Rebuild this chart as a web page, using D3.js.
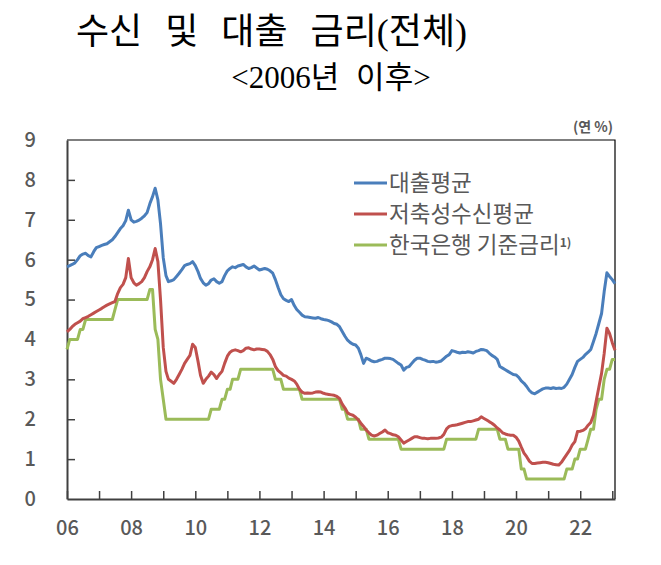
<!DOCTYPE html>
<html>
<head>
<meta charset="utf-8">
<script src="https://cdn.jsdelivr.net/npm/d3@7"></script>
<style>
  body { margin: 0; background: #fff; }
  text { font-family: "Noto Sans CJK KR", sans-serif; }
</style>
</head>
<body>
<svg width="661" height="565"></svg>
<script>
// monthly values, Jan 2006 .. Feb 2023 (연 %)
const loanRate = [
  5.82, 5.85, 5.88, 5.92, 6.00, 6.10, 6.14, 6.16, 6.10, 6.07, 6.20, 6.30,
  6.33, 6.36, 6.38, 6.40, 6.45, 6.50, 6.58, 6.68, 6.78, 6.85, 6.98, 7.24,
  7.00, 6.94, 6.96, 6.99, 7.04, 7.10, 7.18, 7.40, 7.58, 7.79, 7.50, 6.90,
  6.05, 5.60, 5.45, 5.47, 5.50, 5.58, 5.66, 5.75, 5.85, 5.88, 5.90, 5.95,
  5.85, 5.70, 5.53, 5.42, 5.36, 5.40, 5.49, 5.52, 5.45, 5.41, 5.45, 5.60,
  5.72, 5.78, 5.82, 5.80, 5.84, 5.86, 5.88, 5.82, 5.78, 5.80, 5.84, 5.79,
  5.74, 5.76, 5.78, 5.76, 5.72, 5.66, 5.50, 5.30, 5.12, 5.02, 4.98, 4.95,
  5.00, 4.85, 4.75, 4.68, 4.61, 4.57, 4.56, 4.55, 4.54, 4.53, 4.55, 4.52,
  4.50, 4.49, 4.47, 4.44, 4.40, 4.38, 4.32, 4.20, 4.08, 3.98, 3.92, 3.88,
  3.86, 3.78, 3.62, 3.40, 3.53, 3.50, 3.46, 3.44, 3.45, 3.48, 3.50, 3.53,
  3.53, 3.52, 3.50, 3.45, 3.40, 3.36, 3.23, 3.30, 3.32, 3.40, 3.48, 3.53,
  3.53, 3.50, 3.48, 3.45, 3.44, 3.45, 3.43, 3.44, 3.46, 3.52, 3.58, 3.62,
  3.72, 3.70, 3.68, 3.66, 3.68, 3.67, 3.69, 3.68, 3.66, 3.70, 3.72, 3.75,
  3.74, 3.72, 3.66, 3.60, 3.56, 3.50, 3.32, 3.28, 3.24, 3.20, 3.16, 3.12,
  3.11, 3.05, 2.96, 2.90, 2.82, 2.72, 2.66, 2.64, 2.68, 2.72, 2.76, 2.78,
  2.78, 2.77, 2.79, 2.77, 2.78, 2.77, 2.80, 2.88, 3.00, 3.12, 3.30, 3.45,
  3.50, 3.55, 3.62, 3.68, 3.75, 3.95, 4.15, 4.40, 4.65, 5.20, 5.67, 5.58,
  5.50, 5.40
];
const depositRate = [
  4.19, 4.25, 4.32, 4.38, 4.42, 4.46, 4.52, 4.55, 4.58, 4.62, 4.66, 4.70,
  4.74, 4.78, 4.82, 4.86, 4.89, 4.92, 4.95, 5.15, 5.30, 5.38, 5.55, 6.03,
  5.55, 5.42, 5.36, 5.40, 5.45, 5.55, 5.70, 5.82, 6.00, 6.28, 5.95, 5.00,
  3.80, 3.20, 3.00, 2.95, 2.90, 3.00, 3.12, 3.25, 3.40, 3.50, 3.60, 3.88,
  3.80, 3.45, 3.10, 2.90, 3.00, 3.08, 3.18, 3.12, 3.02, 3.12, 3.20, 3.40,
  3.58, 3.68, 3.72, 3.74, 3.72, 3.69, 3.72, 3.78, 3.79, 3.76, 3.74, 3.76,
  3.76, 3.75, 3.74, 3.70, 3.62, 3.50, 3.32, 3.22, 3.16, 3.10, 3.08, 3.03,
  3.00, 2.96, 2.88, 2.75, 2.68, 2.65, 2.66, 2.65, 2.66, 2.68, 2.69, 2.68,
  2.65, 2.63, 2.62, 2.61, 2.60, 2.57, 2.52, 2.38, 2.28, 2.16, 2.12, 2.10,
  2.05, 1.98, 1.90, 1.82, 1.73, 1.66, 1.60, 1.58, 1.60, 1.64, 1.68, 1.73,
  1.66, 1.64, 1.61, 1.60, 1.56, 1.48, 1.40, 1.44, 1.48, 1.52, 1.56, 1.56,
  1.54, 1.52, 1.52, 1.51, 1.52, 1.52, 1.52, 1.53, 1.55, 1.62, 1.76, 1.82,
  1.84, 1.85, 1.86, 1.88, 1.90, 1.92, 1.94, 1.94, 1.96, 1.98, 2.00, 2.06,
  2.02, 1.98, 1.94, 1.90, 1.85, 1.78, 1.73, 1.66, 1.63, 1.61, 1.60, 1.60,
  1.55, 1.45, 1.30, 1.15, 1.06, 0.95, 0.89, 0.89, 0.90, 0.91, 0.92, 0.92,
  0.91, 0.89, 0.87, 0.86, 0.85, 0.92, 1.02, 1.12, 1.22, 1.35, 1.44, 1.69,
  1.70, 1.72, 1.76, 1.85, 1.92, 2.10, 2.45, 2.80, 3.15, 3.65, 4.28, 4.15,
  3.92, 3.73
];
const baseRate = [
  3.75, 4.00, 4.00, 4.00, 4.00, 4.25, 4.25, 4.50, 4.50, 4.50, 4.50, 4.50,
  4.50, 4.50, 4.50, 4.50, 4.50, 4.50, 4.75, 5.00, 5.00, 5.00, 5.00, 5.00,
  5.00, 5.00, 5.00, 5.00, 5.00, 5.00, 5.00, 5.25, 5.25, 4.25, 4.00, 3.00,
  2.50, 2.00, 2.00, 2.00, 2.00, 2.00, 2.00, 2.00, 2.00, 2.00, 2.00, 2.00,
  2.00, 2.00, 2.00, 2.00, 2.00, 2.00, 2.25, 2.25, 2.25, 2.25, 2.50, 2.50,
  2.75, 2.75, 3.00, 3.00, 3.00, 3.25, 3.25, 3.25, 3.25, 3.25, 3.25, 3.25,
  3.25, 3.25, 3.25, 3.25, 3.25, 3.25, 3.00, 3.00, 3.00, 2.75, 2.75, 2.75,
  2.75, 2.75, 2.75, 2.75, 2.50, 2.50, 2.50, 2.50, 2.50, 2.50, 2.50, 2.50,
  2.50, 2.50, 2.50, 2.50, 2.50, 2.50, 2.50, 2.25, 2.25, 2.00, 2.00, 2.00,
  2.00, 2.00, 1.75, 1.75, 1.75, 1.50, 1.50, 1.50, 1.50, 1.50, 1.50, 1.50,
  1.50, 1.50, 1.50, 1.50, 1.50, 1.25, 1.25, 1.25, 1.25, 1.25, 1.25, 1.25,
  1.25, 1.25, 1.25, 1.25, 1.25, 1.25, 1.25, 1.25, 1.25, 1.25, 1.50, 1.50,
  1.50, 1.50, 1.50, 1.50, 1.50, 1.50, 1.50, 1.50, 1.50, 1.50, 1.75, 1.75,
  1.75, 1.75, 1.75, 1.75, 1.75, 1.75, 1.50, 1.50, 1.50, 1.25, 1.25, 1.25,
  1.25, 1.25, 0.75, 0.75, 0.50, 0.50, 0.50, 0.50, 0.50, 0.50, 0.50, 0.50,
  0.50, 0.50, 0.50, 0.50, 0.50, 0.50, 0.50, 0.75, 0.75, 0.75, 1.00, 1.00,
  1.25, 1.25, 1.25, 1.50, 1.75, 1.75, 2.25, 2.50, 2.50, 3.00, 3.25, 3.25,
  3.50, 3.50
];

const seriesNames = ["대출평균", "저축성수신평균", "한국은행 기준금리"];
const seriesColors = ["#4A7EBB", "#C0504D", "#9BBB59"];
const yTicks = [0, 1, 2, 3, 4, 5, 6, 7, 8, 9];
const yearLabels = ["06", "08", "10", "12", "14", "16", "18", "20", "22"];

const svg = d3.select("svg");
const start = new Date(2006, 0, 1);
const dates = loanRate.map((d, i) => d3.timeMonth.offset(start, i));

const x = d3.scaleTime().domain([start, dates[dates.length - 1]]).range([67, 615]);
const y = d3.scaleLinear().domain([0, 9]).range([499, 140]);

// titles
svg.append("text")
  .attr("x", 76).attr("y", 44)
  .style("font-family", "'Liberation Serif', 'Noto Sans CJK KR'")
  .style("font-size", "36px")
  .style("word-spacing", "14px")
  .attr("fill", "#000")
  .text("수신 및 대출 금리(전체)");

svg.append("text")
  .attr("x", 331).attr("y", 88)
  .attr("text-anchor", "middle")
  .style("font-family", "'Liberation Serif', 'Noto Sans CJK KR'")
  .style("font-size", "31px")
  .style("word-spacing", "9px")
  .attr("fill", "#000")
  .text("<2006년 이후>");

svg.append("text")
  .attr("x", 613).attr("y", 132)
  .attr("text-anchor", "end")
  .style("font-size", "14px").style("font-weight", 700)
  .attr("fill", "#595959")
  .text("(연 %)");

// frame: top and right
svg.append("path")
  .attr("d", "M67,140H615V499")
  .attr("fill", "none").attr("stroke", "#000").attr("stroke-width", 1.2);

// axes
const yAxis = svg.append("g")
  .attr("transform", "translate(67,0)")
  .call(d3.axisLeft(y).tickValues(yTicks).tickSizeInner(-8).tickSizeOuter(0).tickPadding(31));

const xAxis = svg.append("g")
  .attr("transform", "translate(0,499)")
  .call(d3.axisBottom(x)
    .tickValues(d3.timeYear.range(start, new Date(2023, 1, 1)))
    .tickSizeInner(-8).tickSizeOuter(0).tickPadding(22)
    .tickFormat(d => {
      const s = d3.timeFormat("%y")(d);
      return yearLabels.includes(s) ? s : "";
    }));

[yAxis, xAxis].forEach(g => {
  g.select(".domain").attr("stroke", "#404040").attr("stroke-width", 2);
  g.selectAll(".tick line").attr("stroke", "#404040").attr("stroke-width", 1.5);
  g.selectAll(".tick text")
    .attr("fill", "#595959")
    .style("font-family", "'Noto Sans CJK KR'")
    .style("font-size", "20px")
    .style("font-weight", 500);
});
yAxis.selectAll(".tick line").filter(d => d === 0 || d === 9).remove();

// lines
const allSeries = [loanRate, depositRate, baseRate];
const line = d3.line().x((d, i) => x(dates[i])).y(d => y(d));

svg.append("g").selectAll("path")
  .data(allSeries.slice().reverse())
  .join("path")
  .attr("d", d => line(d))
  .attr("fill", "none")
  .attr("stroke", (d, i) => seriesColors[2 - i])
  .attr("stroke-width", 3)
  .attr("stroke-linejoin", "round");

// legend
const legend = svg.append("g").selectAll("g")
  .data(seriesNames)
  .join("g")
  .attr("transform", (d, i) => "translate(354," + (183 + i * 31) + ")");

legend.append("line")
  .attr("x1", 0).attr("x2", 33)
  .attr("stroke", (d, i) => seriesColors[i])
  .attr("stroke-width", 3);

const lt = legend.append("text")
  .attr("x", 35).attr("dy", "0.35em")
  .attr("fill", "#595959")
  .style("font-size", "22.5px")
  .text(d => d);

lt.filter((d, i) => i === 2)
  .append("tspan")
  .attr("dy", "-0.5em")
  .style("font-size", "12px")
  .style("font-weight", 700)
  .text("1)");
</script>
</body>
</html>
